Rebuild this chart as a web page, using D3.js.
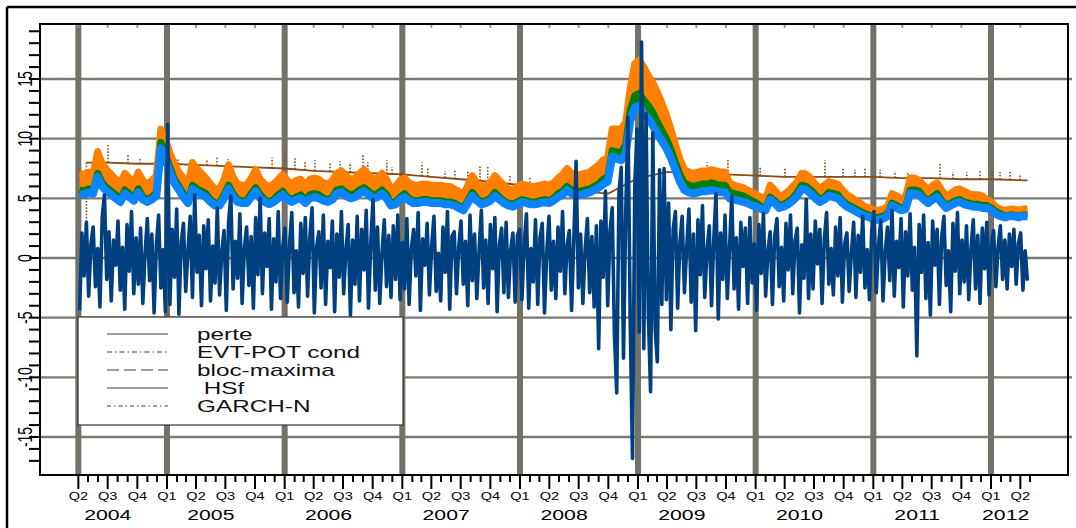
<!DOCTYPE html>
<html>
<head>
<meta charset="utf-8">
<script src="https://cdn.jsdelivr.net/npm/d3@7"></script>
<style>
  body { margin: 0; background: #fff; }
  svg { display: block; font-family: "Liberation Sans", Arial, sans-serif; }
</style>
</head>
<body>
<script>
// ---- data ----

// weekly loss series (perte), first week 2004-04-05
var perte = [
  -4.4, 2.1, -1.5, 3.0, -3.2, 1.2, 2.6, -2.4, 0.8, -4.1, 3.4, 5.3, -1.8, 2.2, -3.6, 1.5, -0.6, 3.1, -2.7, 0.9,
  -4.3, 2.8, -1.1, 3.9, -3.0, 1.7, -2.2, 2.5, -3.8, 0.4, 3.3, -1.9, 2.0, -4.6, 1.1, 3.6, -2.5, 0.7, -4.5,
  11.2, -3.9, 2.4, -1.6, 4.1, -4.7, 1.3, 2.9, -2.8, 0.6, 3.5, -3.3, 5.3, -1.2, 1.9, -4.0, 2.7, -0.9, 3.2, -3.6,
  1.0, -2.1, 4.2, -3.1, 0.5, 2.3, -4.4, 3.0, 5.2, -2.6, 1.4, -1.7, 3.7, -3.8, 0.8, 2.6, -2.3, 1.8, -4.2, 3.4,
  -1.4, 5.0, -3.0, 2.1, -0.7, 3.3, -4.3, 1.6, -2.0, 3.9, -3.4, 0.9,
  2.5, -3.7, 1.1, 3.8, -2.9, 0.6, -4.1, 2.9, -1.3, 3.4, -3.2, 1.7, 4.2, -4.6, 0.9, 2.2, -2.5, 3.6, -3.9, 1.4,
  -0.8, 3.1, -4.5, 2.0, -1.6, 3.9, -3.0, 0.7, 2.8, -4.8, 1.5, -2.2, 3.5, -3.6, 2.4, -1.0, 4.0, -4.2, 1.2, 4.9,
  -2.7, 2.6, -3.8, 0.5, 3.2, -2.4, 1.9, -3.3, 2.7, -1.8, 3.6, -3.5,
  1.3, -2.6, 3.3, -3.9, 0.8, 2.4, -1.5, 3.8, -4.4, 1.6, -0.6, 2.9, -3.1, 1.0, 3.5, -2.8, 0.4, -3.6, 2.6, -1.2,
  3.9, -4.3, 1.8, 2.2, -3.0, 0.9, 3.1, -2.2, 1.4, -4.0, 3.6, -1.9, 2.0, -3.4, 0.6, 4.0, -2.5, 1.5, -3.8, 2.8,
  -0.9, 3.4, -4.5, 1.1, 2.5, -2.9, 3.0, -3.3, 0.7, 2.1, -3.7, 1.9,
  2.4, -3.5, 1.2, 3.7, -4.2, 0.8, -2.0, 3.2, -3.9, 1.7, 2.9, -4.6, 0.5, 3.5, -2.7, 1.4, -3.4, 2.6, -1.1, 3.9,
  -3.0, 1.0, 2.3, -4.4, 1.6, 8.1, -2.5, 2.0, -3.8, 0.7, 3.3, -2.9, 1.8, -4.1, 2.7, -7.6, 3.1, -1.6, 5.6, -4.0, 2.2,
  4.2, -6.5, -11.3, 5.5, 7.6, -8.4, 3.8, 11.8, -5.5, -16.8, 6.0, 10.8, -6.2, 18.1, -7.6, 12.1, -4.5, -11.2, 10.5, -5.8,
  -8.7, 7.4, -3.9, 7.5,
  -3.5, 4.6, -6.0, 2.4, 3.9, -4.2, 1.3, 3.5, -2.9, 0.8, 4.1, -3.7, 2.0, -6.1, 3.2, -1.4, 4.4, -3.3, 0.6, 2.7,
  -4.0, 1.5, 5.4, -5.1, 2.1, -1.8, 3.6, -3.4, 0.9, 5.2, -2.6, 1.7, -4.3, 3.0, -0.7, 2.5, -3.8, 3.4, -2.1, 1.2, -4.4,
  2.8, -1.3, 3.7, -3.2, 0.6, 2.2, -3.9, 1.8, 3.3, -2.4, 0.9, -3.6, 2.9, -1.0, 3.6, -3.0, 1.4, 2.5, -4.6, 1.1,
  -1.7, 4.9, -3.4, 2.0, -2.6, 3.1, -0.5, 2.4, -3.8, 1.6, 3.8, -2.2, 0.8, -3.1, 2.6, -1.5, 3.4, -3.7, 1.2, 2.1,
  -2.8, 0.4, 3.0, -3.3, 1.9, -1.2, 3.5, -2.5, 0.7, -3.5, 2.3, 3.9,
  -2.9, 1.0, 3.2, -3.6, 0.5, 2.6, -1.9, 4.0, -3.2, 1.4, -0.8, 3.3, -4.1, 2.2, -1.5, 3.7, -2.7, 0.9, -8.2, 2.8,
  -1.2, 3.6, -3.4, 1.3, -4.8, 3.1, -0.6, 2.4, -3.9, 1.7, 3.5, -2.3, 0.6, -4.5, 2.9, -1.1, 3.8, -3.0, 1.5, -2.0,
  2.7, -3.5, 0.8, 3.2, -2.6, 1.9, -3.8, 2.5, -0.9, 3.0, -3.1, 1.1,
  2.3, -2.4, 0.9, 2.7, -1.8, 1.5, -2.6, 2.0, -0.7, 2.4, -2.2, 1.2, 2.1, -2.7, 0.6, -1.9
];

// fortnightly VaR series, first point 2004-04-05
var garchN = [
  5.4, 5.3, 5.5, 5.4, 6.8, 6.0, 5.6, 5.3, 5.0, 4.7, 5.4, 5.1, 4.8, 5.5, 4.9, 4.7, 4.9, 5.2, 9.2, 8.3,
  7.2, 6.3, 5.7, 5.1, 4.6, 5.8, 5.5, 5.3, 5.1, 4.7, 4.4, 4.4, 5.0, 5.8, 5.1, 4.7, 4.6, 4.6, 5.1, 5.6,
  5.0, 4.7, 4.5, 4.7, 5.0, 5.3, 4.9, 4.7, 4.9, 5.0, 4.6, 5.0, 5.1, 5.0, 4.8, 4.7, 4.9, 5.4, 5.5, 5.2,
  5.0, 5.1, 5.4, 5.6, 5.3, 5.0, 5.1, 5.4, 5.0, 4.4, 4.5, 4.9, 5.1, 4.8, 4.6, 4.6, 4.7, 4.7, 4.6, 4.6,
  4.6, 4.5, 4.5, 4.4, 4.2, 4.0, 4.6, 5.2, 4.8, 4.5, 4.6, 4.8, 5.2, 4.9, 4.6, 4.4, 4.3, 4.5, 4.7, 4.6,
  4.5, 4.5, 4.6, 4.7, 4.6, 4.8, 5.1, 5.3, 5.7, 5.4, 5.2, 5.3, 5.4, 5.5, 5.7, 5.9, 6.2, 6.4, 8.5, 8.3,
  8.2, 8.8, 11.5, 12.6, 12.8, 12.1, 11.7, 11.1, 10.4, 9.8, 9.2, 8.4, 7.4, 6.4, 5.7, 5.5, 5.4, 5.5, 5.6, 5.6,
  5.7, 5.6, 5.5, 5.5, 5.0, 4.9, 4.8, 4.7, 4.6, 4.4, 4.3, 4.1, 4.0, 4.9, 4.6, 4.2, 4.3, 4.5, 4.8, 5.2,
  5.8, 5.7, 5.4, 5.0, 4.7, 4.9, 5.2, 5.1, 5.0, 4.6, 4.3, 4.1, 3.9, 3.7, 3.5, 3.4, 3.2, 3.2, 3.3, 3.5,
  4.4, 4.2, 4.0, 4.1, 5.4, 5.4, 5.3, 4.9, 4.6, 4.9, 5.1, 4.6, 4.2, 4.4, 4.6, 4.7, 4.5, 4.4, 4.3, 4.3,
  4.2, 4.2, 4.0, 3.7, 3.5, 3.4, 3.5, 3.5, 3.4, 3.5, 3.5
];
var hsf = [
  5.7, 5.6, 5.8, 5.7, 7.1, 6.3, 5.9, 5.6, 5.3, 4.9, 5.7, 5.4, 5.0, 5.8, 5.1, 4.9, 5.1, 5.5, 9.7, 8.7,
  7.6, 6.6, 6.0, 5.4, 4.8, 6.1, 5.8, 5.6, 5.4, 4.9, 4.6, 4.6, 5.3, 6.1, 5.4, 4.9, 4.8, 4.8, 5.4, 5.9,
  5.3, 4.9, 4.7, 4.9, 5.3, 5.6, 5.1, 4.9, 5.1, 5.3, 4.8, 5.3, 5.4, 5.3, 5.0, 4.9, 5.1, 5.7, 5.8, 5.5,
  5.3, 5.4, 5.7, 5.9, 5.6, 5.3, 5.4, 5.7, 5.3, 4.6, 4.7, 5.1, 5.4, 5.0, 4.8, 4.8, 4.9, 4.9, 4.8, 4.8,
  4.8, 4.7, 4.7, 4.6, 4.4, 4.2, 4.8, 5.5, 5.0, 4.7, 4.8, 5.0, 5.5, 5.1, 4.8, 4.6, 4.5, 4.7, 4.9, 4.8,
  4.7, 4.7, 4.8, 4.9, 4.8, 5.0, 5.4, 5.6, 6.0, 5.7, 5.5, 5.6, 5.7, 5.8, 6.0, 6.2, 6.6, 6.8, 9.0, 8.9,
  8.8, 9.5, 12.4, 13.6, 13.8, 13.2, 12.8, 12.2, 11.4, 10.7, 10.0, 9.1, 8.0, 7.0, 6.3, 6.1, 6.0, 6.1, 6.2, 6.2,
  6.3, 6.2, 6.1, 6.1, 5.5, 5.4, 5.3, 5.2, 5.0, 4.8, 4.6, 4.3, 4.2, 5.1, 4.8, 4.4, 4.5, 4.7, 5.0, 5.5,
  6.1, 6.0, 5.7, 5.3, 4.9, 5.1, 5.5, 5.4, 5.3, 4.8, 4.5, 4.3, 4.1, 3.9, 3.7, 3.6, 3.4, 3.4, 3.5, 3.7,
  4.6, 4.4, 4.2, 4.3, 5.7, 5.7, 5.6, 5.1, 4.8, 5.1, 5.4, 4.8, 4.4, 4.6, 4.8, 4.9, 4.7, 4.6, 4.5, 4.5,
  4.4, 4.4, 4.2, 3.9, 3.7, 3.5, 3.6, 3.6, 3.5, 3.6, 3.6
];
var evtPot = [
  7.1, 7.0, 7.2, 7.1, 8.9, 7.9, 7.4, 7.0, 6.6, 6.2, 7.1, 6.7, 6.3, 7.2, 6.5, 6.2, 6.5, 6.9, 10.8, 10.0,
  8.8, 7.9, 7.2, 6.7, 6.1, 8.0, 7.5, 7.1, 6.7, 6.2, 5.8, 5.8, 6.6, 7.8, 6.8, 6.2, 6.1, 6.1, 6.7, 7.4,
  6.6, 6.2, 6.0, 6.2, 6.6, 7.0, 6.5, 6.2, 6.5, 6.6, 6.1, 6.6, 6.7, 6.6, 6.3, 6.2, 6.5, 7.1, 7.3, 6.9,
  6.6, 6.7, 7.1, 7.4, 7.0, 6.6, 6.7, 7.1, 6.6, 5.8, 6.0, 6.5, 6.7, 6.3, 6.1, 6.1, 6.2, 6.2, 6.1, 6.1,
  6.1, 6.0, 6.0, 5.8, 5.6, 5.3, 6.1, 6.9, 6.3, 6.0, 6.1, 6.3, 6.9, 6.5, 6.1, 5.8, 5.7, 6.0, 6.2, 6.1,
  6.0, 6.0, 6.1, 6.2, 6.1, 6.3, 6.7, 7.0, 7.5, 7.1, 6.9, 7.0, 7.1, 7.2, 7.5, 7.8, 8.2, 8.4, 10.8, 10.8,
  10.8, 11.4, 14.2, 16.3, 16.6, 16.0, 15.3, 14.7, 13.9, 13.0, 12.0, 10.8, 9.5, 8.3, 7.4, 7.2, 7.1, 7.2, 7.3, 7.3,
  7.4, 7.3, 7.2, 7.2, 6.3, 6.1, 6.0, 5.9, 5.7, 5.5, 5.3, 5.1, 5.0, 6.1, 5.7, 5.2, 5.3, 5.6, 6.0, 6.4,
  7.1, 7.0, 6.7, 6.2, 5.8, 6.1, 6.4, 6.3, 6.2, 5.7, 5.3, 5.1, 4.8, 4.6, 4.3, 4.2, 4.0, 4.0, 4.1, 4.3,
  5.4, 5.2, 5.0, 5.1, 6.7, 6.7, 6.5, 6.1, 5.7, 6.1, 6.3, 5.7, 5.2, 5.4, 5.7, 5.8, 5.6, 5.4, 5.3, 5.3,
  5.2, 4.9, 4.7, 4.3, 4.1, 4.0, 4.1, 4.1, 4.0, 4.1, 4.1
];

// bloc-maxima level and its dotted spikes
var blocDates = ["2004-04-26", "2004-07-01", "2004-10-01", "2005-01-01", "2005-04-01", "2005-07-01",
  "2005-10-01", "2006-01-01", "2006-04-01", "2006-07-01", "2006-10-01", "2007-01-01", "2007-04-01",
  "2007-07-01", "2007-10-01", "2008-01-01", "2008-04-01", "2008-07-01", "2008-10-01", "2009-01-01",
  "2009-04-01", "2009-07-01", "2009-10-01", "2010-01-01", "2010-04-01", "2010-07-01", "2010-10-01",
  "2011-01-01", "2011-04-01", "2011-07-01", "2011-10-01", "2012-01-01", "2012-04-23"];
var blocBase = [8.0, 8.0, 7.9, 7.9, 7.8, 7.7, 7.6, 7.5, 7.3, 7.2, 7.1, 7.0, 6.8, 6.6, 6.4, 6.1, 5.9,
  5.6, 5.4, 6.7, 7.2, 7.2, 7.0, 6.9, 6.8, 6.8, 6.8, 6.8, 6.7, 6.7, 6.6, 6.6, 6.5];
var spikeDates = ["2004-04-26", "2004-05-31", "2004-07-02", "2004-09-02", "2004-10-09", "2005-02-04",
  "2005-05-05", "2005-06-05", "2005-07-09", "2005-11-23", "2006-01-02", "2006-02-02", "2006-03-05",
  "2006-04-05", "2006-05-22", "2006-06-22", "2006-07-23", "2006-09-01", "2006-09-16", "2006-11-14",
  "2006-11-30", "2007-03-03", "2007-03-21", "2007-05-13", "2007-06-13", "2007-07-23", "2007-08-30",
  "2007-09-23", "2007-12-01", "2008-02-01", "2009-01-07", "2009-08-03", "2009-10-07", "2010-01-15",
  "2010-04-02", "2010-06-03", "2010-08-04", "2010-09-29", "2010-11-05", "2010-12-06", "2011-01-22",
  "2011-03-09", "2011-04-18", "2011-07-27", "2011-09-05", "2011-10-18", "2011-11-28", "2012-01-04",
  "2012-01-29", "2012-02-29", "2012-03-31"];
var spikeTops = [0, 9.2, 9.5, 8.6, 8.3, 8.4, 8.3, 8.5, 8.3, 8.4, 8.9, 8.5, 8.1, 8.2, 8.0, 8.1, 8.0,
  8.6, 8.0, 8.2, 7.6, 8.0, 7.6, 7.3, 7.4, 7.3, 7.8, 7.7, 7.0, 6.8, 9.6, 8.0, 8.2, 7.6, 7.6, 7.4, 8.2,
  7.5, 7.4, 7.6, 7.4, 7.3, 7.2, 7.9, 7.2, 7.2, 7.3, 7.4, 7.2, 7.2, 7.0];

var yLabels = [-15, -10, -5, 0, 5, 10, 15];
var legendNames = ["perte", "EVT-POT cond", "bloc-maxima", " HSf", "GARCH-N"];
var legendDash = ["none", "5,3,1.5,3", "12,5", "none", "4,3,1.5,3"];

// ---- layout ----
var W = 1076, H = 528;
var plotL = 40, plotR = 1068, plotT = 24, plotB = 475;
var gridColor = "#727269";

var svg = d3.select("body").append("svg")
    .attr("width", W)
    .attr("height", H);

var x = d3.scaleTime()
    .domain([new Date(2005, 0, 1), new Date(2012, 0, 1)])
    .range([167, 991]);
var y = d3.scaleLinear()
    .domain([-15, 15])
    .range([437, 79]);

var parse = d3.timeParse("%Y-%m-%d");
var start = new Date(2004, 3, 5);

var perteData = perte.map(function(v, i) { return {date: d3.timeDay.offset(start, 7 * i), v: v}; });
var varData = garchN.map(function(v, i) {
  return {date: d3.timeDay.offset(start, 14 * i), b: v, g: hsf[i], o: evtPot[i]};
});
var blocData = blocDates.map(function(s, i) { return {date: parse(s), v: blocBase[i]}; });

// outer frame (top and left only, the picture is cropped)
svg.append("line").attr("x1", 7).attr("y1", 7).attr("x2", W).attr("y2", 7)
    .attr("stroke", "#000").attr("stroke-width", 2.5);
svg.append("line").attr("x1", 7).attr("y1", 7).attr("x2", 7).attr("y2", H)
    .attr("stroke", "#000").attr("stroke-width", 2.5);

// horizontal grid
svg.selectAll("line.hgrid")
    .data(yLabels)
    .enter().append("line")
    .attr("class", "hgrid")
    .attr("x1", plotL).attr("x2", plotR + 4)
    .attr("y1", function(d) { return y(d); })
    .attr("y2", function(d) { return y(d); })
    .attr("stroke", "#7a7a72")
    .attr("stroke-width", 2.4);

// month ticks along the time axis
var months = d3.timeMonth.range(new Date(2004, 3, 1), new Date(2012, 5, 1));
var quarters = months.filter(function(d) { return d.getMonth() % 3 === 0; });
var vgrid = [months[0]].concat(quarters.filter(function(d) { return d.getMonth() === 0; }));

svg.selectAll("line.vgrid")
    .data(vgrid)
    .enter().append("line")
    .attr("class", "vgrid")
    .attr("x1", function(d) { return x(d); })
    .attr("x2", function(d) { return x(d); })
    .attr("y1", plotT).attr("y2", plotB)
    .attr("stroke", gridColor)
    .attr("stroke-width", 6);

// small grey marks on the top edge
svg.selectAll("line.topmark")
    .data(quarters.filter(function(d) { return d.getMonth() !== 0; }))
    .enter().append("line")
    .attr("class", "topmark")
    .attr("x1", function(d) { return x(d); })
    .attr("x2", function(d) { return x(d); })
    .attr("y1", plotT).attr("y2", plotT + 4)
    .attr("stroke", "#999").attr("stroke-width", 2);

// bloc-maxima level
var blocLine = d3.line()
    .x(function(d) { return x(d.date); })
    .y(function(d) { return y(d.v); });
svg.append("path")
    .datum(blocData)
    .attr("d", blocLine)
    .attr("fill", "none")
    .attr("stroke", "#8c4a12")
    .attr("stroke-width", 1.8);

// dotted spikes rising from the level
var baseAt = d3.scaleTime()
    .domain(blocData.map(function(d) { return d.date; }))
    .range(blocData.map(function(d) { return d.v; }));
svg.selectAll("line.spike")
    .data(spikeDates)
    .enter().append("line")
    .attr("class", "spike")
    .attr("x1", function(d) { return x(parse(d)); })
    .attr("x2", function(d) { return x(parse(d)); })
    .attr("y1", function(d) { return y(baseAt(parse(d))); })
    .attr("y2", function(d, i) { return y(spikeTops[i]); })
    .attr("stroke", "#8c4a12")
    .attr("stroke-width", 1.6)
    .attr("stroke-dasharray", "1.6,1.6");

// VaR bands: EVT-POT cond (orange), HSf (green), GARCH-N (light blue)
function band(key) {
  return d3.area()
      .x(function(d) { return x(d.date); })
      .y0(function(d) { return y(d.b); })
      .y1(function(d) { return y(d[key]); });
}
function edge(key) {
  return d3.line()
      .x(function(d) { return x(d.date); })
      .y(function(d) { return y(d[key]); });
}
svg.append("path").datum(varData).attr("d", band("o")).attr("fill", "#ff8000");
svg.append("path").datum(varData).attr("d", edge("o"))
    .attr("fill", "none").attr("stroke", "#ff8000").attr("stroke-width", 7).attr("stroke-linejoin", "round");
svg.append("path").datum(varData).attr("d", band("g")).attr("fill", "#008000");
svg.append("path").datum(varData).attr("d", edge("g"))
    .attr("fill", "none").attr("stroke", "#008000").attr("stroke-width", 7).attr("stroke-linejoin", "round");
svg.append("path").datum(varData).attr("d", edge("b"))
    .attr("fill", "none").attr("stroke", "#0a84ff").attr("stroke-width", 8).attr("stroke-linejoin", "round");

// loss series
svg.append("path")
    .datum(perteData)
    .attr("d", d3.line()
        .x(function(d) { return x(d.date); })
        .y(function(d) { return y(d.v); }))
    .attr("fill", "none")
    .attr("stroke", "#004080")
    .attr("stroke-width", 3.6)
    .attr("stroke-linejoin", "round");

// plot frame
svg.append("rect")
    .attr("x", plotL).attr("y", plotT)
    .attr("width", plotR - plotL).attr("height", plotB - plotT)
    .attr("fill", "none").attr("stroke", "#000").attr("stroke-width", 2);

// y ticks and rotated labels
svg.selectAll("line.ytick")
    .data(d3.range(-17, 20))
    .enter().append("line")
    .attr("class", "ytick")
    .attr("x1", plotL - 11).attr("x2", plotL)
    .attr("y1", function(d) { return y(d); })
    .attr("y2", function(d) { return y(d); })
    .attr("stroke", "#000").attr("stroke-width", 2);
svg.selectAll("text.ylab")
    .data(yLabels)
    .enter().append("text")
    .attr("class", "ylab")
    .attr("transform", function(d) { return "translate(25," + y(d) + ") scale(1.4,1) rotate(-90)"; })
    .attr("text-anchor", "middle")
    .attr("dy", "0.36em")
    .attr("font-size", 14)
    .text(function(d) { return d; });

// x ticks: months short, quarters long
svg.selectAll("line.xtick")
    .data(months)
    .enter().append("line")
    .attr("class", "xtick")
    .attr("x1", function(d) { return x(d); })
    .attr("x2", function(d) { return x(d); })
    .attr("y1", plotB)
    .attr("y2", function(d) { return d.getMonth() % 3 === 0 ? plotB + 14 : plotB + 7; })
    .attr("stroke", "#000").attr("stroke-width", 2);
svg.selectAll("text.qlab")
    .data(quarters)
    .enter().append("text")
    .attr("class", "qlab")
    .attr("transform", function(d) { return "translate(" + x(d) + ",499.5) scale(1.35,1)"; })
    .attr("text-anchor", "middle")
    .attr("font-size", 10.8)
    .text(function(d) { return "Q" + (d.getMonth() / 3 + 1); });

var years = d3.groups(quarters, function(d) { return d.getFullYear(); });
svg.selectAll("text.ylabel")
    .data(years)
    .enter().append("text")
    .attr("class", "ylabel")
    .attr("transform", function(d) { return "translate(" + d3.mean(d[1], x) + ",519.5) scale(1.37,1)"; })
    .attr("text-anchor", "middle")
    .attr("font-size", 15.5)
    .text(function(d) { return d[0]; });

// legend
var legend = svg.append("g");
legend.append("rect")
    .attr("x", 78).attr("y", 317).attr("width", 325).attr("height", 108)
    .attr("fill", "#fff").attr("stroke", "#333").attr("stroke-width", 1.2);
legend.selectAll("line.key")
    .data(legendNames)
    .enter().append("line")
    .attr("class", "key")
    .attr("x1", 107).attr("x2", 168)
    .attr("y1", function(d, i) { return 334 + i * 18; })
    .attr("y2", function(d, i) { return 334 + i * 18; })
    .attr("stroke", "#7f7f7f").attr("stroke-width", 1.5)
    .attr("stroke-dasharray", function(d, i) { return legendDash[i]; });
legend.selectAll("text.key")
    .data(legendNames)
    .enter().append("text")
    .attr("class", "key")
    .attr("transform", function(d, i) { return "translate(197," + (339.5 + i * 18) + ") scale(1.52,1)"; })
    .attr("font-size", 16)
    .attr("fill", "#111")
    .style("white-space", "pre")
    .text(function(d) { return d; });
</script>
</body>
</html>
